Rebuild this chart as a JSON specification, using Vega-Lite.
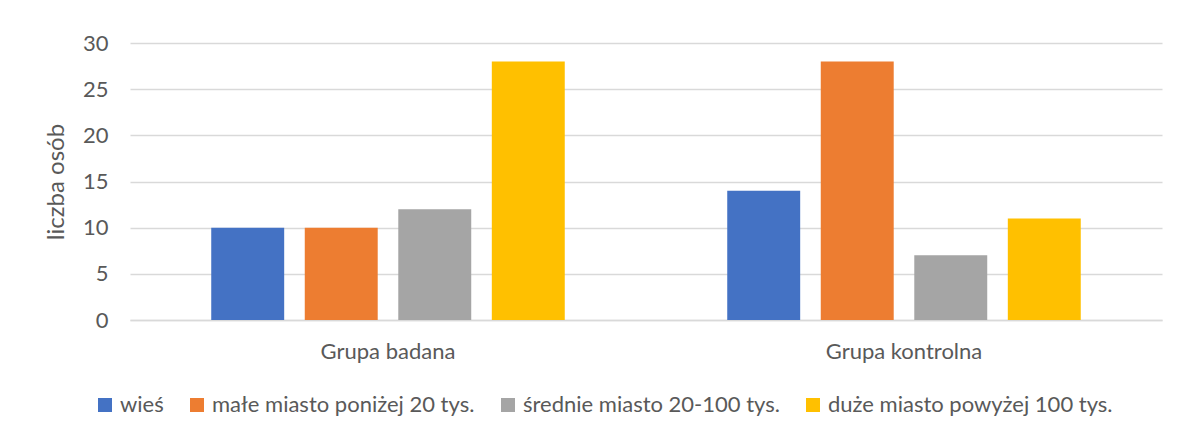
{
  "$schema": "https://vega.github.io/schema/vega-lite/v6.json",
  "width": 1032,
  "height": 277,
  "autosize": {"type": "none"},
  "padding": {"left": 130, "top": 43, "right": 16, "bottom": 117},
  "background": "white",
  "data": {
    "values": [
      {"grupa": "Grupa badana", "miejsce": "wieś", "liczba": 10},
      {"grupa": "Grupa badana", "miejsce": "małe miasto poniżej 20 tys.", "liczba": 10},
      {"grupa": "Grupa badana", "miejsce": "średnie miasto 20-100 tys.", "liczba": 12},
      {"grupa": "Grupa badana", "miejsce": "duże miasto powyżej 100 tys.", "liczba": 28},
      {"grupa": "Grupa kontrolna", "miejsce": "wieś", "liczba": 14},
      {"grupa": "Grupa kontrolna", "miejsce": "małe miasto poniżej 20 tys.", "liczba": 28},
      {"grupa": "Grupa kontrolna", "miejsce": "średnie miasto 20-100 tys.", "liczba": 7},
      {"grupa": "Grupa kontrolna", "miejsce": "duże miasto powyżej 100 tys.", "liczba": 11}
    ]
  },
  "mark": {"type": "bar"},
  "encoding": {
    "x": {
      "field": "grupa",
      "type": "nominal",
      "scale": {"paddingInner": 0.275, "paddingOuter": 0.1375},
      "axis": {
        "title": null,
        "labelAngle": 0,
        "ticks": false,
        "grid": false,
        "domainColor": "#D9D9D9",
        "domainWidth": 1.5,
        "labelPadding": 21,
        "labelFontSize": 22,
        "labelFont": "Lato",
        "labelColor": "#595959"
      }
    },
    "xOffset": {
      "field": "miejsce",
      "type": "nominal",
      "sort": ["wieś", "małe miasto poniżej 20 tys.", "średnie miasto 20-100 tys.", "duże miasto powyżej 100 tys."],
      "scale": {"paddingInner": 0.22, "paddingOuter": 0.11}
    },
    "y": {
      "field": "liczba",
      "type": "quantitative",
      "scale": {"domain": [0, 30], "nice": false},
      "axis": {
        "title": "liczba osób",
        "values": [0, 5, 10, 15, 20, 25, 30],
        "domain": false,
        "ticks": false,
        "grid": true,
        "gridColor": "#D9D9D9",
        "gridWidth": 1.5,
        "labelPadding": 22,
        "labelFontSize": 22,
        "labelFont": "Lato",
        "labelColor": "#595959",
        "titleFont": "Lato",
        "titleFontSize": 24,
        "titleFontWeight": "normal",
        "titleColor": "#595959",
        "titlePadding": 14
      }
    },
    "color": {
      "field": "miejsce",
      "type": "nominal",
      "sort": ["wieś", "małe miasto poniżej 20 tys.", "średnie miasto 20-100 tys.", "duże miasto powyżej 100 tys."],
      "scale": {
        "domain": ["wieś", "małe miasto poniżej 20 tys.", "średnie miasto 20-100 tys.", "duże miasto powyżej 100 tys."],
        "range": ["#4472C4", "#ED7D31", "#A5A5A5", "#FFC000"]
      },
      "legend": {
        "title": null,
        "orient": "none",
        "direction": "horizontal",
        "legendX": -36,
        "legendY": 351,
        "symbolType": "square",
        "symbolSize": 196,
        "symbolStrokeWidth": 0,
        "labelFont": "Lato",
        "labelFontSize": 22,
        "labelColor": "#595959",
        "labelOffset": 4,
        "labelLimit": 500,
        "columnPadding": 22
      }
    }
  },
  "config": {
    "view": {"stroke": null}
  }
}
